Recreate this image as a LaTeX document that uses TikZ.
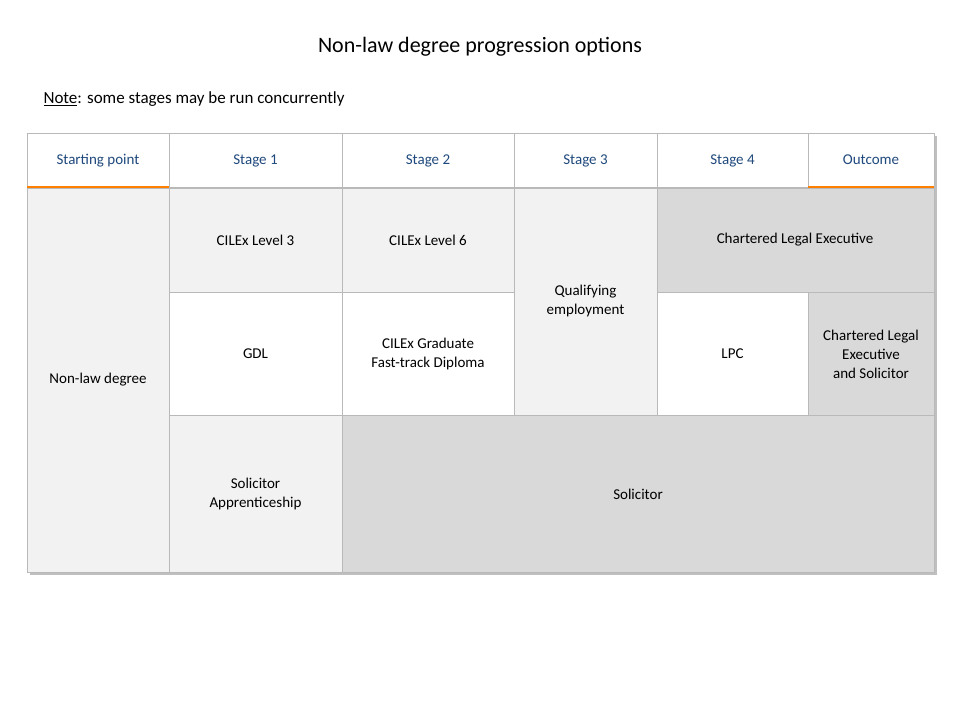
\documentclass[tikz,border=0pt]{standalone}
\usepackage{fontspec}
\setmainfont{Carlito}
\definecolor{hdblue}{HTML}{1F497D}
\begin{document}
\begin{tikzpicture}[x=1pt,y=-1pt,
  cell/.style={draw=gray!55,line width=0.6pt},
  lt/.style={cell,fill=black!5},
  dk/.style={cell,fill=black!15},
  wt/.style={cell,fill=white},
  txt/.style={align=center,font=\fontsize{15}{19}\selectfont},
  hd/.style={txt,text=hdblue,text height=10pt,text depth=3pt}]
\useasboundingbox (0,0) rectangle (960,720);
\node[font=\fontsize{22}{26}\selectfont] (title) at (480,47) {Non-law degree progression options};
\node[anchor=west,font=\fontsize{17}{20}\selectfont] (note) at (40,99) {\underline{Note}: some stages may be run concurrently};
% shadow
\fill[black!25] (30,136) rectangle (937,575);
% header
\draw[wt] (27,133) rectangle (934,187);
\foreach \x in {169,342,514,657,808} \draw[gray!55,line width=0.6pt] (\x,133) -- (\x,187);
\draw[orange,line width=2pt] (27,187) -- (169,187);
\draw[orange,line width=2pt] (808,187) -- (934,187);
\node[hd] (h1) at (98,161) {Starting point};
\node[hd] (h2) at (255.5,161) {Stage 1};
\node[hd] (h3) at (428,161) {Stage 2};
\node[hd] (h4) at (585.5,161) {Stage 3};
\node[hd] (h5) at (732.5,161) {Stage 4};
\node[hd] (h6) at (871,161) {Outcome};
% body
\draw[lt] (27,188) rectangle (169,572);
\draw[lt] (169,188) rectangle (342,292);
\draw[lt] (342,188) rectangle (514,292);
\draw[lt] (514,188) rectangle (657,415);
\draw[dk] (657,188) rectangle (934,292);
\draw[wt] (169,292) rectangle (342,415);
\draw[wt] (342,292) rectangle (514,415);
\draw[wt] (657,292) rectangle (808,415);
\draw[dk] (808,292) rectangle (934,415);
\draw[lt] (169,415) rectangle (342,572);
\draw[dk] (342,415) rectangle (934,572);
\node[txt] (n1) at (98,380) {Non-law degree};
\node[txt] (n2) at (255.5,240) {CILEx Level 3};
\node[txt] (n3) at (428,240) {CILEx Level 6};
\node[txt] (n4) at (585.5,301) {Qualifying\\employment};
\node[txt] (n5) at (795,240) {Chartered Legal Executive};
\node[txt] (n6) at (255.5,354) {GDL};
\node[txt] (n7) at (428,354) {CILEx Graduate\\Fast-track Diploma};
\node[txt] (n8) at (732.5,354) {LPC};
\node[txt] (n9) at (871,354) {Chartered Legal\\Executive\\and Solicitor};
\node[txt] (n10) at (255.5,494) {Solicitor\\Apprenticeship};
\node[txt] (n11) at (638,494) {Solicitor};
\end{tikzpicture}
\end{document}
